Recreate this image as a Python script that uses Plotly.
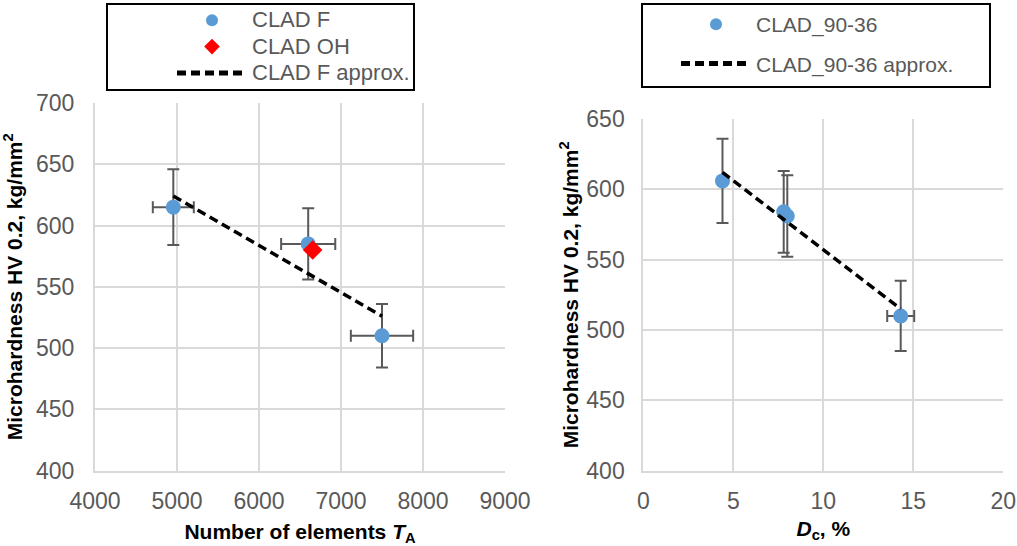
import plotly.graph_objects as go

# ---------------- data ----------------
# Left chart: microhardness vs number of elements T_A
cladF_x = [4955, 6600, 7500]
cladF_y = [615, 585, 510]
cladF_xerr = [250, 330, 380]
cladF_yerr = [31, 29, 26]

cladOH_x = [6655]
cladOH_y = [580]

approxF_x = [4955, 7500]
approxF_y = [624, 526]

# Right chart: microhardness vs D_c, %
clad90_x = [4.4, 7.8, 8.0, 14.3]
clad90_y = [606, 584, 581, 510]
clad90_xerr = [0, 0.15, 0.15, 0.75]
clad90_yerr = [30, 29, 29, 25]

approx90_x = [4.4, 14.3]
approx90_y = [612, 515]

left_xticks = [4000, 5000, 6000, 7000, 8000, 9000]
left_yticks = [400, 450, 500, 550, 600, 650, 700]
right_xticks = [0, 5, 10, 15, 20]
right_yticks = [400, 450, 500, 550, 600, 650]

# ---------------- style ----------------
W, H = 1017, 546
FONT = "Liberation Sans, Arial, sans-serif"
GRAY = "#595959"
GRID = "#d9d9d9"
BLUE = "#5b9bd5"
RED = "#ff0000"
ERR = "#595959"


def big(name, size=22):
    return '<span style="font-size:%dpx">%s</span>' % (size, name)


fig = go.Figure()

fig.add_trace(go.Scatter(
    x=cladF_x, y=cladF_y, mode="markers", name=big("CLAD F"),
    marker=dict(color=BLUE, size=15, symbol="circle"),
    error_x=dict(type="data", array=cladF_xerr, color=ERR, thickness=2, width=6),
    error_y=dict(type="data", array=cladF_yerr, color=ERR, thickness=2, width=6),
    xaxis="x", yaxis="y", legend="legend", legendgroup="a",
))
fig.add_trace(go.Scatter(
    x=cladOH_x, y=cladOH_y, mode="markers", name=big("CLAD OH"),
    marker=dict(color=RED, size=15, symbol="diamond"),
    xaxis="x", yaxis="y", legend="legend", legendgroup="b",
))
fig.add_trace(go.Scatter(
    x=approxF_x, y=approxF_y, mode="lines", name=big("CLAD F approx."),
    line=dict(color="black", width=3.5, dash="9px,5px"),
    xaxis="x", yaxis="y", legend="legend", legendgroup="c",
))

fig.add_trace(go.Scatter(
    x=clad90_x, y=clad90_y, mode="markers", name="CLAD_90-36",
    marker=dict(color=BLUE, size=15, symbol="circle"),
    error_x=dict(type="data", array=clad90_xerr, color=ERR, thickness=2, width=6),
    error_y=dict(type="data", array=clad90_yerr, color=ERR, thickness=2, width=6),
    xaxis="x2", yaxis="y2", legend="legend2", legendgroup="d",
))
fig.add_trace(go.Scatter(
    x=approx90_x, y=approx90_y, mode="lines", name="CLAD_90-36 approx.",
    line=dict(color="black", width=3.5, dash="9px,5px"),
    xaxis="x2", yaxis="y2", legend="legend2", legendgroup="e",
))


def px_x(p):
    return p / W


def px_y(p):
    return 1 - p / H


axis_common = dict(
    showgrid=True, gridcolor=GRID, gridwidth=2,
    showline=True, linecolor=GRID, linewidth=2,
    zeroline=False, ticks="", automargin=False,
    tickfont=dict(family=FONT, size=23, color=GRAY),
)
title_font = dict(family=FONT, size=21, color="black")

fig.update_layout(
    width=W, height=H,
    margin=dict(l=0, r=0, t=0, b=0),
    paper_bgcolor="white", plot_bgcolor="white",
    font=dict(family=FONT, color=GRAY),
    xaxis=dict(axis_common, domain=[px_x(95), px_x(505)], range=[4000, 9000],
               tickvals=left_xticks, anchor="y", ticklabelstandoff=9,
               title=dict(text="<b>Number of elements <i>T</i><sub>A</sub></b>", font=title_font, standoff=12)),
    yaxis=dict(axis_common, domain=[px_y(470.5), px_y(103)], range=[400, 700],
               tickvals=left_yticks, anchor="x", ticklabelstandoff=14,
               title=dict(text="<b>Microhardness HV 0.2, kg/mm<sup>2</sup></b>", font=title_font, standoff=8)),
    xaxis2=dict(axis_common, domain=[px_x(643.3), px_x(1003.3)], range=[0, 20],
                tickvals=right_xticks, anchor="y2", ticklabelstandoff=9,
                title=dict(text="<b><i>D</i><sub>c</sub>, %</b>", font=title_font, standoff=8)),
    yaxis2=dict(axis_common, domain=[px_y(470.7), px_y(119)], range=[400, 650],
                tickvals=right_yticks, anchor="x2", ticklabelstandoff=12,
                title=dict(text="<b>Microhardness HV 0.2, kg/mm<sup>2</sup></b>", font=title_font, standoff=2)),
    legend=dict(x=px_x(172), y=px_y(2), xanchor="left", yanchor="top",
                bgcolor="rgba(0,0,0,0)", borderwidth=0, itemsizing="constant",
                font=dict(family=FONT, size=18, color=GRAY),
                itemwidth=70, tracegroupgap=0),
    legend2=dict(x=px_x(676), y=px_y(4), xanchor="left", yanchor="top",
                 bgcolor="rgba(0,0,0,0)", borderwidth=0, itemsizing="constant",
                 font=dict(family=FONT, size=21, color=GRAY),
                 itemwidth=70, tracegroupgap=9),
    shapes=[
        dict(type="rect", xref="paper", yref="paper",
             x0=px_x(107), x1=px_x(414), y0=px_y(90), y1=px_y(4),
             line=dict(color="black", width=2), layer="below"),
        dict(type="rect", xref="paper", yref="paper",
             x0=px_x(642), x1=px_x(990), y0=px_y(87), y1=px_y(4),
             line=dict(color="black", width=2), layer="below"),
    ],
)

fig.write_html("out.html")
